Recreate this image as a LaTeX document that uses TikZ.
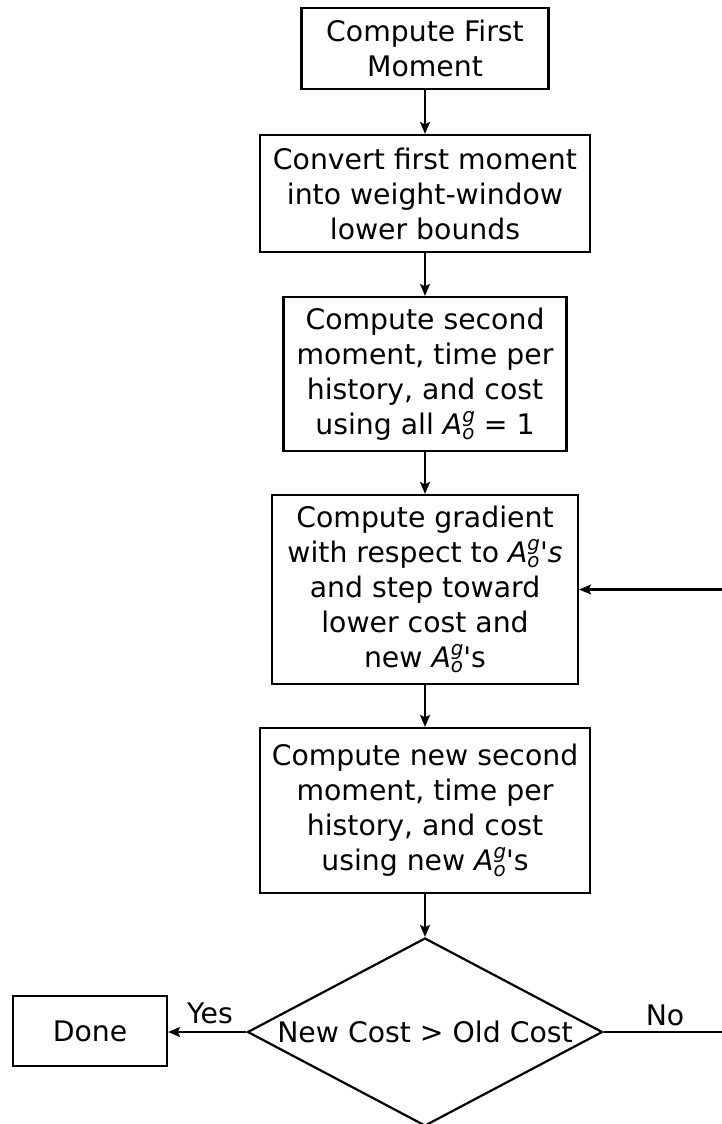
\documentclass[tikz,border=0pt]{standalone}
\usepackage{fontspec}
\setmainfont{DejaVu Sans}
\usetikzlibrary{shapes.geometric,arrows.meta}

% weight-window parameter A_o^g set in the sans italic of the text
\newcommand\subsz{\fontsize{19.8}{20}\selectfont\itshape}
\newcommand\Aog{\textit{A}\makebox[0pt][l]{\raisebox{-0.2em}{\subsz o}}\raisebox{0.42em}{\subsz g}}

\tikzset{
  base/.style={draw, line width=2.2pt, inner sep=0pt, align=center,
    font=\fontsize{28.3}{35}\selectfont},
  proc/.style={base, rectangle},
  decide/.style={base, diamond, aspect=1.89},
  lbl/.style={font=\fontsize{28.3}{32}\selectfont, inner sep=0pt},
  arr/.style={line width=2.2pt, -{Stealth[length=12pt,width=10pt,inset=2.5pt]}}
}

\begin{document}
\begin{tikzpicture}[x=1pt,y=-1pt]
\useasboundingbox (0,0) rectangle (722,1124);
\clip (0,0) rectangle (722,1124);

\node[proc, minimum width=247, minimum height=81] (first) at (425,48.5)
  {Compute First\\Moment};
\node[proc, minimum width=330, minimum height=117] (conv) at (425,193.5)
  {Convert first moment\\into weight-window\\lower bounds};
\node[proc, minimum width=283, minimum height=154] (second) at (425,374)
  {Compute second\\moment, time per\\history, and cost\\using all \Aog\ = 1};
\node[proc, minimum width=306, minimum height=189] (grad) at (425,589.5)
  {Compute gradient\\with respect to \Aog\textquotesingle\textit{s}\\and step toward\\lower cost and\\new \Aog\textquotesingle s};
\node[proc, minimum width=330, minimum height=165] (newsec) at (425,810.5)
  {Compute new second\\moment, time per\\history, and cost\\using new \Aog\textquotesingle s};
\node[decide, minimum width=355, minimum height=188] (dec) at (425,1032)
  {New Cost > Old Cost};
\node[proc, minimum width=154, minimum height=70] (done) at (90,1031)
  {Done};

\coordinate (loop) at (780,1032);

\draw[arr] (first) -- (conv);
\draw[arr] (conv) -- (second);
\draw[arr] (second) -- (grad);
\draw[arr] (grad) -- (newsec);
\draw[arr] (newsec) -- (dec);
\draw[arr] (dec.west) -- (done.east |- dec.west);
\draw[arr] (dec.east) -- (loop) |- (grad.east);

\node[lbl] (yes) at (210,1013) {Yes};
\node[lbl] (no) at (665,1015) {No};
\end{tikzpicture}
\end{document}
